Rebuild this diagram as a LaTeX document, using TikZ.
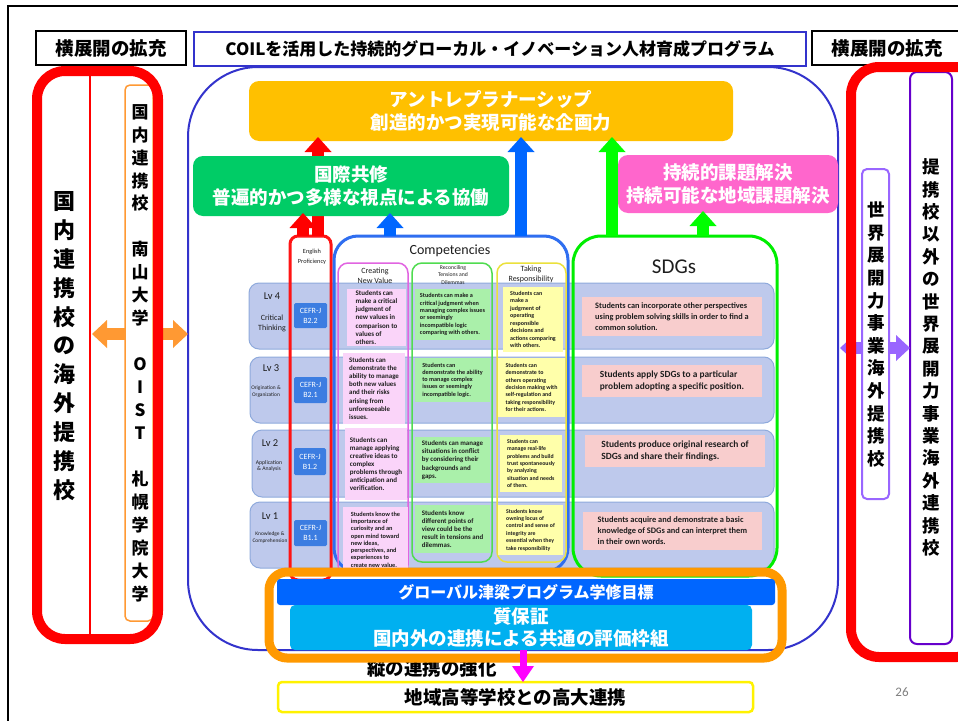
\documentclass[tikz,border=0pt]{standalone}
\usepackage{fontspec}
\setmainfont{Carlito}
\newfontfamily\jp{Noto Sans CJK JP}
\usetikzlibrary{arrows.meta,calc}
\newcommand\fsz[2]{\fontsize{#1}{#2}\selectfont}
\newcommand\mkbox[7]{\node[inner sep=0pt, outer sep=0pt, anchor=north west, minimum width={(#4-#2)*1pt}, minimum height={(#5-#3)*1pt}, #6] (#1) at (#2,#3) {#7};}
\definecolor{coilblue}{RGB}{51,51,204}
\definecolor{entreC}{RGB}{255,192,0}
\definecolor{kokusaiC}{RGB}{0,204,102}
\definecolor{jizokuC}{RGB}{255,102,204}
\definecolor{orgc}{RGB}{255,153,51}
\definecolor{purl}{RGB}{153,102,255}
\definecolor{purd}{RGB}{102,0,204}
\definecolor{arrblue}{RGB}{0,102,255}
\definecolor{arrgreen}{RGB}{0,255,0}
\definecolor{rowfill}{RGB}{190,201,236}
\definecolor{rowdraw}{RGB}{143,170,220}
\definecolor{cefrC}{RGB}{60,125,225}
\definecolor{compblue}{RGB}{47,110,240}
\definecolor{cvpink}{RGB}{250,212,249}
\definecolor{cvframe}{RGB}{225,100,225}
\definecolor{rtgreen}{RGB}{170,240,170}
\definecolor{rtframe}{RGB}{80,220,80}
\definecolor{tryel}{RGB}{255,255,170}
\definecolor{trframe}{RGB}{235,225,60}
\definecolor{sdgpink}{RGB}{248,205,205}
\definecolor{sdgframe}{RGB}{0,238,0}
\definecolor{engred}{RGB}{255,20,20}
\definecolor{bandorange}{RGB}{255,153,0}
\definecolor{bandblue}{RGB}{0,102,255}
\definecolor{qcyan}{RGB}{0,176,240}
\definecolor{txtdark}{RGB}{30,30,30}
\definecolor{magc}{RGB}{255,0,255}
\begin{document}
\begin{tikzpicture}[x=1pt,y=-1pt,
  rowst/.style={fill=rowfill, draw=rowdraw, line width=1pt, rounded corners=10pt},
  cellst/.style={align=left, text=txtdark},
  cefrst/.style={fill=cefrC, text=white, align=center, font=\fsz{8}{10}, rounded corners=1.5pt},
  lvst/.style={text=txtdark, font=\fsz{10.5}{12}},
  lvsub/.style={text=txtdark, align=center},
  arr/.style n args={3}{line width=#1, -{Triangle[width=#2,length=#3,line width=0pt]}},
  darr/.style n args={3}{line width=#1, {Triangle[width=#2,length=#3,line width=0pt]}-{Triangle[width=#2,length=#3,line width=0pt]}},
  jpbig/.style={font={\jp\bfseries\fsz{18.5}{23}}, text=white, align=center}
]
\fill[white] (0,0) rectangle (958,720);
\useasboundingbox (0,0) rectangle (958,720);
\draw[line width=2pt] (8,722) -- (8,6) -- (970,6);

% headers
\mkbox{hdL}{36}{31}{186}{65}{draw=black, line width=2pt, font={\jp\bfseries\fsz{18.5}{20}}}{横展開の拡充}
\mkbox{hdT}{194}{32}{806}{66}{draw=coilblue, line width=2pt, font={\jp\bfseries\fsz{17}{20}}}{COILを活用した持続的グローカル・イノベーション人材育成プログラム}
\mkbox{hdR}{812}{31}{970}{65}{draw=black, line width=2pt}{}
\node[font={\jp\bfseries\fsz{18.5}{20}}] (hdRt) at (887,48) {横展開の拡充};

% main container
\mkbox{prog}{188}{67}{838}{650}{draw=coilblue, line width=2pt, rounded corners=70pt}{}

% left group
\coordinate (divL) at (90,0);
\coordinate (yo) at (0,334);
\draw[darr={12pt}{28pt}{15pt}, draw=orgc] ($(divL |- yo)+(2,0)$) -- (prog.west |- yo);
\mkbox{ocol}{125}{85}{153}{621}{draw=orgc, line width=1.5pt, fill=white, rounded corners=5pt}{}
\node[font={\jp\bfseries\fsz{17}{22.95}}, align=center] (ocolt) at (140,353) {国\\内\\連\\携\\校\\\mbox{}\\南\\山\\大\\学\\\mbox{}\\O\\I\\S\\T\\\mbox{}\\札\\幌\\学\\院\\大\\学};
\mkbox{redL}{37}{71}{158}{639}{draw=red, line width=10pt, rounded corners=28pt}{}
\draw[red, line width=1.5pt] (redL.north -| divL) -- (redL.south -| divL);
\node[font={\jp\bfseries\fsz{22}{28.9}}, align=center] (leftt) at (64,346) {国\\内\\連\\携\\校\\の\\海\\外\\提\\携\\校};

% right group
\mkbox{dpur}{910}{72}{952}{644}{draw=purd, line width=2pt, rounded corners=7pt}{}
\coordinate (yp) at (0,348);
\draw[darr={12pt}{26pt}{14pt}, draw=purl] ($(prog.east |- yp)+(2,0)$) -- (dpur.west |- yp);
\mkbox{lpur}{862}{169}{889}{499}{draw=purl, line width=2pt, fill=white, rounded corners=5pt}{}
\mkbox{redR}{851}{67}{985}{657}{draw=red, line width=10pt, rounded corners=28pt}{}
\node[font={\jp\bfseries\fsz{17.5}{22.4}}, align=center] (dpurt) at (931,357.5) {提\\携\\校\\以\\外\\の\\世\\界\\展\\開\\力\\事\\業\\海\\外\\連\\携\\校};
\node[font={\jp\bfseries\fsz{17.5}{22.6}}, align=center] (lpurt) at (876,334.5) {世\\界\\展\\開\\力\\事\\業\\海\\外\\提\\携\\校};

% top box
\mkbox{entre}{249}{81}{733}{141}{fill=entreC, rounded corners=10pt, jpbig}{アントレプラナーシップ\\創造的かつ実現可能な企画力}

% ===== competencies table =====
\mkbox{row4}{249}{283}{774}{349}{rowst}{}
\mkbox{row3}{250}{357}{774}{423}{rowst}{}
\mkbox{row2}{252}{430}{774}{497}{rowst}{}
\mkbox{row1}{250}{502}{774}{568}{rowst}{}

\node[lvst] (lv4) at (272,296) {Lv 4};
\node[lvsub, font=\fsz{8}{10}] (lv4s) at (272,323) {Critical\\Thinking};
\node[lvst] (lv3) at (271,368) {Lv 3};
\node[lvsub, font=\fsz{5.4}{7}] (lv3s) at (266,392) {Origination \&\\Organization};
\node[lvst] (lv2) at (270,443) {Lv 2};
\node[lvsub, font=\fsz{5.7}{6.8}] (lv2s) at (269,466) {Application\\\& Analysis};
\node[lvst] (lv1) at (270,516) {Lv 1};
\node[lvsub, font=\fsz{5.4}{7}] (lv1s) at (270,537.5) {Knowledge \&\\Comprehension};

% frames
\mkbox{eng}{290}{236}{331}{580}{draw=engred, line width=3pt, rounded corners=8pt}{}
\mkbox{comp}{334}{236}{568}{572}{draw=compblue, line width=3pt, rounded corners=24pt}{}
\mkbox{cvf}{338}{263}{408}{575}{draw=cvframe, line width=1.5pt, rounded corners=10pt}{}
\mkbox{rtf}{412}{263}{492}{562}{draw=rtframe, line width=1.5pt, rounded corners=10pt}{}
\mkbox{trf}{497}{263}{566}{562}{draw=trframe, line width=1.5pt, rounded corners=10pt}{}
\mkbox{sdgf}{573}{236}{777}{576}{draw=sdgframe, line width=3pt, rounded corners=28pt}{}

% headers
\node[text=txtdark, font=\fsz{6.3}{9.5}, align=center] (engt) at (312,257) {English\\Proficiency};
\node[text=txtdark, font=\fsz{14}{15}] (compt) at (450,251) {Competencies};
\node[text=txtdark, font=\fsz{8}{10}, align=center] (cvh) at (375,276) {Creating\\New Value};
\node[text=txtdark, font=\fsz{5.7}{7.2}, align=center] (rth) at (453,275) {Reconciling\\Tensions and\\Dilemmas};
\node[text=txtdark, font=\fsz{8}{10}, align=center] (trh) at (531,274) {Taking\\Responsibility};
\node[text=txtdark, font=\fsz{21}{22}] (sdgt) at (674,267) {SDGs};

% CEFR
\mkbox{c4}{294}{303}{327}{328}{cefrst}{CEFR-J\\B2.2}
\mkbox{c3}{294}{377}{327}{403}{cefrst}{CEFR-J\\B2.1}
\mkbox{c2}{294}{448}{326}{475}{cefrst}{CEFR-J\\B1.2}
\mkbox{c1}{294}{520}{327}{546}{cefrst}{CEFR-J\\B1.1}

% Creating New Value cells
\mkbox{cv4}{347}{289}{406}{346}{cellst, fill=cvpink, font=\bfseries\fsz{7}{8.2}}{Students can\\make a critical\\judgment of\\new values in\\comparison to\\values of\\others.}
\mkbox{cv3}{343}{353}{405}{424}{cellst, fill=cvpink, font=\bfseries\fsz{6.9}{8.1}}{Students can\\demonstrate the\\ability to manage\\both new values\\and their risks\\arising from\\unforeseeable\\issues.}
\mkbox{cv2}{345}{428}{407}{500}{cellst, fill=cvpink, font=\bfseries\fsz{7}{8}}{Students can\\manage applying\\creative ideas to\\complex\\problems through\\anticipation and\\verification.}
\mkbox{cv1}{343}{507}{408}{572}{cellst, fill=cvpink, font=\bfseries\fsz{6.3}{7.3}}{Students know the\\importance of\\curiosity and an\\open mind toward\\new ideas,\\perspectives, and\\experiences to\\create new value.}

% Reconciling cells
\mkbox{rt4}{415}{289}{490}{340}{cellst, fill=rtgreen, font=\bfseries\fsz{6.2}{7.3}}{Students can make a\\critical judgment when\\managing complex issues\\or seemingly\\incompatible logic\\comparing with others.}
\mkbox{rt3}{415}{358}{490}{402}{cellst, fill=rtgreen, font=\bfseries\fsz{6.2}{7.3}}{Students can\\demonstrate the ability\\to manage complex\\issues or seemingly\\incompatible logic.}
\mkbox{rt2}{415}{437}{490}{483}{cellst, fill=rtgreen, font=\bfseries\fsz{6.9}{8.3}}{Students can manage\\situations in conflict\\by considering their\\backgrounds and\\gaps.}
\mkbox{rt1}{415}{505}{490}{553}{cellst, fill=rtgreen, font=\bfseries\fsz{6.9}{8.2}}{Students know\\different points of\\view could be the\\result in tensions and\\dilemmas.}

% Taking Responsibility cells
\mkbox{tr4}{503}{287}{563}{352}{cellst, fill=tryel, font=\bfseries\fsz{6}{7.5}}{Students can\\make a\\judgment of\\operating\\responsible\\decisions and\\actions comparing\\with others.}
\mkbox{tr3}{498}{358}{565}{417}{cellst, fill=tryel, font=\bfseries\fsz{5.9}{7.4}}{Students can\\demonstrate to\\others operating\\decision making with\\self-regulation and\\taking responsibility\\for their actions.}
\mkbox{tr2}{500}{435}{562}{492}{cellst, fill=tryel, font=\bfseries\fsz{5.8}{7.3}}{Students can\\manage real-life\\problems and build\\trust spontaneously\\by analyzing\\situation and needs\\of them.}
\mkbox{tr1}{498}{505}{563}{555}{cellst, fill=tryel, font=\bfseries\fsz{5.8}{7.4}}{Students know\\owning locus of\\control and sense of\\integrity are\\essential when they\\take responsibility}

% SDG cells
\mkbox{sd4}{582}{297}{762}{336}{cellst, fill=sdgpink, font=\bfseries\fsz{8.3}{10.7}}{Students can incorporate other perspectives\\using problem solving skills in order to find a\\common solution.}
\mkbox{sd3}{582}{365}{762}{397}{cellst, fill=sdgpink, font=\bfseries\fsz{9.4}{11.7}}{Students apply SDGs to a particular\\problem adopting a specific position.}
\mkbox{sd2}{585}{435}{765}{467}{cellst, fill=sdgpink, font=\bfseries\fsz{9.5}{11.8}}{Students produce original research of\\SDGs and share their findings.}
\mkbox{sd1}{583}{512}{762}{550}{cellst, fill=sdgpink, font=\bfseries\fsz{8.4}{11}}{Students acquire and demonstrate a basic\\knowledge of SDGs and can interpret them\\in their own words.}

% arrows x positions
\coordinate (xr1) at (303,0);
\coordinate (xr2) at (318,0);
\coordinate (xb1) at (390,0);
\coordinate (xb2) at (521,0);
\coordinate (xg1) at (612,0);
\coordinate (xg2) at (703,0);

% arrows to entrepreneurship box (behind green box)
\draw[arr={12pt}{27pt}{15pt}, draw=red] (eng.north -| xr2) -- ($(entre.south -| xr2)+(0,-4)$);
\draw[arr={12pt}{27pt}{15pt}, draw=arrblue] (comp.north -| xb2) -- ($(entre.south -| xb2)+(0,-4)$);
\draw[arr={12pt}{27pt}{15pt}, draw=arrgreen] (sdgf.north -| xg1) -- ($(entre.south -| xg1)+(0,-4)$);

% green and pink boxes
\mkbox{kokusai}{193}{156}{509}{216}{fill=kokusaiC, rounded corners=10pt, jpbig}{国際共修\\普遍的かつ多様な視点による協働}
\mkbox{jizoku}{618}{155}{838}{213}{fill=jizokuC, rounded corners=10pt, jpbig}{持続的課題解決\\持続可能な地域課題解決}

\draw[arr={12pt}{27pt}{15pt}, draw=red] (eng.north -| xr1) -- ($(kokusai.south -| xr1)+(0,-3)$);
\draw[arr={12pt}{27pt}{15pt}, draw=arrblue] (comp.north -| xb1) -- ($(kokusai.south -| xb1)+(0,-3)$);
\draw[arr={12pt}{27pt}{15pt}, draw=arrgreen] (sdgf.north -| xg2) -- ($(jizoku.south -| xg2)+(0,-2)$);

% ===== bottom =====
\node[font={\jp\bfseries\fsz{18.5}{20}}] (tate) at (432,668) {縦の連携の強化};
\mkbox{band}{269}{572}{782}{658}{draw=bandorange, line width=9pt, rounded corners=18pt}{}
\mkbox{goal}{277}{579}{775}{605}{fill=bandblue, rounded corners=3pt, text=white, font={\jp\bfseries\fsz{16}{18}}}{グローバル津梁プログラム学修目標}
\mkbox{qa}{290}{605}{752}{650}{fill=qcyan, rounded corners=5pt, text=white, align=center, font={\jp\bfseries\fsz{18.5}{22}}}{質保証\\国内外の連携による共通の評価枠組}
\mkbox{hs}{278}{682}{753}{712}{draw=yellow, line width=2.5pt, rounded corners=4pt, font={\jp\bfseries\fsz{18.5}{20}}}{地域高等学校との高大連携}
\coordinate (xm) at (523,0);
\draw[arr={7pt}{22pt}{16pt}, draw=magc] (qa.south -| xm) -- (hs.north -| xm);

\node[text=gray, font=\fsz{13}{15}] (pg) at (902,692) {26};
\end{tikzpicture}
\end{document}
